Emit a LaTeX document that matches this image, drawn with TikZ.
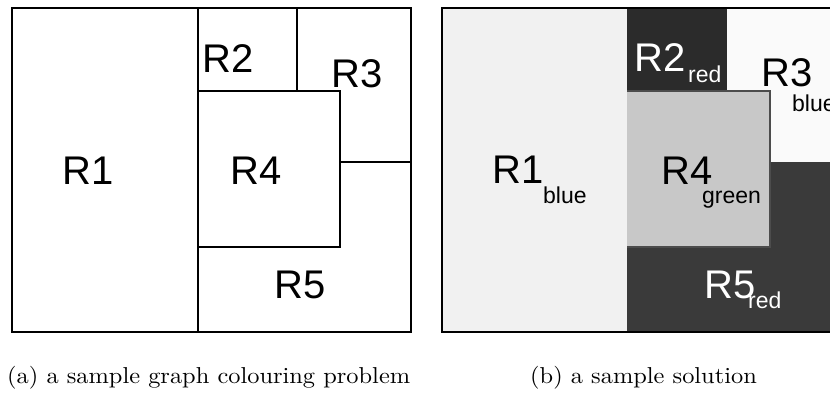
\documentclass[tikz,border=0pt]{standalone}
\usepackage{fontspec}
\newfontfamily\labfont{Liberation Sans}
\definecolor{cR1}{HTML}{F1F1F1}
\definecolor{cR2}{HTML}{2B2B2B}
\definecolor{cR3}{HTML}{FAFAFA}
\definecolor{cR4}{HTML}{C8C8C8}
\definecolor{cR5}{HTML}{3A3A3A}
\newcommand{\captxt}[1]{\scalebox{2.44}[2.3]{\fontsize{10}{12}\selectfont #1}}
\tikzset{
  biglabel/.style={anchor=base west, inner sep=0pt, font=\labfont\fontsize{40}{40}\selectfont},
  sublabel/.style={anchor=base west, inner sep=0pt, font=\labfont\fontsize{23}{23}\selectfont},
  captext/.style={anchor=base west, inner sep=0pt},
  outerline/.style={draw=black, line width=2.6pt},
  innerline/.style={draw=black, line width=1.8pt},
  boxfour/.style={draw=black, line width=2.3pt},
}
\begin{document}
\begin{tikzpicture}[x=1pt,y=-1pt]
\useasboundingbox (0,0) rectangle (830,393);
\clip (0,0) rectangle (830,393);
% ---------- panel (a) ----------
\draw[innerline] (198,8) -- (198,332);
\draw[innerline] (297,8) -- (297,91);
\draw[innerline] (340,162) -- (411,162);
\draw[boxfour] (198,91) rectangle (340,247);
\draw[outerline] (12,8) rectangle (411,332);
\node[biglabel] (a1) at (62,185) {R1};
\node[biglabel] (a2) at (202,73) {R2};
\node[biglabel] (a3) at (331,88) {R3};
\node[biglabel] (a4) at (230,185) {R4};
\node[biglabel] (a5) at (274,298) {R5};
% ---------- panel (b) ----------
\fill[cR1] (442,8) rectangle (627,332);
\fill[cR2] (627,8) rectangle (727,91);
\fill[cR3] (727,8) rectangle (845,162);
\fill[cR5] (627,162) rectangle (845,332);
\fill[cR5] (627,91) rectangle (770,162);
\fill[cR4] (627,91) rectangle (770,247);
\draw[draw=black!70, line width=1.6pt] (627,91) -- (770,91) -- (770,247) -- (627,247);
\draw[outerline] (442,8) rectangle (845,332);
\node[biglabel] (b1) at (492,183) {R1};
\node[sublabel] (b1s) at (543,203) {blue};
\node[biglabel, white] (b2) at (634,72) {R2};
\node[sublabel, white] (b2s) at (688,83) {red};
\node[biglabel] (b3) at (761,87) {R3};
\node[sublabel] (b3s) at (792,112) {blue};
\node[biglabel] (b4) at (661,185) {R4};
\node[sublabel] (b4s) at (702,203) {green};
\node[biglabel, white] (b5) at (704,298) {R5};
\node[sublabel, white] (b5s) at (748,308) {red};
% ---------- captions ----------
\node[captext] (capa) at (7,383) {\captxt{(a) a sample graph colouring problem}};
\node[captext] (capb) at (530,383) {\captxt{(b) a sample solution}};
\end{tikzpicture}
\end{document}
